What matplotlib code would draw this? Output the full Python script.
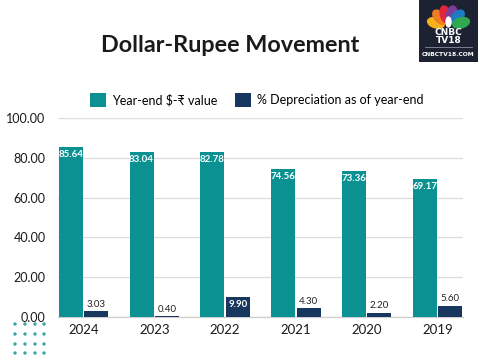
import matplotlib
matplotlib.use("Agg")
import matplotlib.pyplot as plt
import numpy as np
from matplotlib.patches import Rectangle, Ellipse

plt.rcParams['font.family'] = ['Lato', 'DejaVu Sans']

years = ["2024", "2023", "2022", "2021", "2020", "2019"]
rate = [85.64, 83.04, 82.78, 74.56, 73.36, 69.17]
depr = [3.03, 0.40, 9.90, 4.30, 2.20, 5.60]
yticks = [0, 20, 40, 60, 80, 100]
series_names = ["Year-end $-\u20b9 value", "% Depreciation as of year-end"]

TEAL = "#0B9191"
NAVY = "#17375E"

fig = plt.figure(figsize=(4.8, 3.6), dpi=100)
fig.patch.set_facecolor("white")
ax = fig.add_axes([58/480, 1-317/360, 405/480, 199/360])

x = np.arange(len(years))
w = 0.34
off = 0.18
b1 = ax.bar(x - off, rate, w, color=TEAL, label=series_names[0], zorder=3)
b2 = ax.bar(x + off, depr, w, color=NAVY, label=series_names[1], zorder=3)

for xi, v in zip(x, rate):
    ax.text(xi - off, v - 1.5, f"{v:.2f}", ha="center", va="top",
            color="white", fontsize=7, fontweight="bold", zorder=4)
for xi, v in zip(x, depr):
    if v > 8:
        ax.text(xi + off, v - 1.2, f"{v:.2f}", ha="center", va="top",
                color="white", fontsize=7, fontweight="bold", zorder=4)
    else:
        ax.text(xi + off, v + 1.2, f"{v:.2f}", ha="center", va="bottom",
                color="#222222", fontsize=7, zorder=4)

ax.set_xlim(-0.36, len(years) - 1 + 0.36)
ax.set_ylim(0, 100)
ax.set_yticks(yticks)
ax.set_yticklabels([f"{t:.2f}" for t in yticks])
ax.set_xticks(x)
ax.set_xticklabels(years)
ax.tick_params(axis="both", length=0, labelsize=9, colors="#1a1a1a")
ax.tick_params(axis="x", labelsize=9.5)
ax.tick_params(axis="y", pad=9)
ax.tick_params(axis="x", pad=5)
ax.grid(axis="y", color="#dcdcdc", linewidth=0.9, zorder=0)
for s in ["top", "right", "left"]:
    ax.spines[s].set_visible(False)
ax.spines["bottom"].set_color("#cfcfcf")
ax.spines["bottom"].set_linewidth(0.9)

fig.text(0.479, 1-46/360, "Dollar-Rupee Movement", ha="center", va="center",
         fontsize=16.8, fontweight="bold", color="#1a1a1a")

fig.legend(handles=[b1, b2], loc="center", bbox_to_anchor=(0.535, 1-100/360),
           ncol=2, frameon=False, fontsize=9, handlelength=1.25, handleheight=1.25,
           handletextpad=0.5, columnspacing=1.4)

# decorative dots bottom-left
for cx in [15, 25, 35, 44]:
    for cy in [324, 334, 344, 353]:
        fig.patches.append(Ellipse((cx/480, 1-cy/360), 2/480, 2/360,
                                   transform=fig.transFigure, color="#3aa6a6", zorder=0))

# logo
lax = fig.add_axes([419/480, 1-62/360, 59/480, 62/360])
lax.set_xlim(0, 59); lax.set_ylim(0, 62)
lax.axis("off")
lax.add_patch(Rectangle((0, 0), 59, 62, color="#1d2233"))
cols = ["#f5b21b", "#ef7d22", "#e2263c", "#7c3e97", "#1d7cc3", "#2fa84f"]
angs = [165, 133, 104, 76, 47, 15]
for c, a in zip(cols, angs):
    r = np.deg2rad(a)
    lax.add_patch(Ellipse((29.5 + 13*np.cos(r), 36 + 12*np.sin(r)), 10, 17,
                          angle=a - 90, color=c))
lax.add_patch(Ellipse((29.5, 40), 5, 10, color="white"))
lax.text(29.5, 29.5, "CNBC", color="white", fontsize=6.5, fontweight="heavy",
         ha="center", va="center", family="DejaVu Sans")
lax.text(29.5, 21.5, "TV18", color="white", fontsize=6.5, fontweight="heavy",
         ha="center", va="center", family="DejaVu Sans")
lax.plot([6, 53], [15, 15], color="#8890a0", lw=0.6)
lax.text(29.5, 7, "CNBCTV18.COM", color="white", fontsize=4.3, fontweight="bold",
         ha="center", va="center", family="DejaVu Sans")

fig.savefig("out.png", dpi=100)
